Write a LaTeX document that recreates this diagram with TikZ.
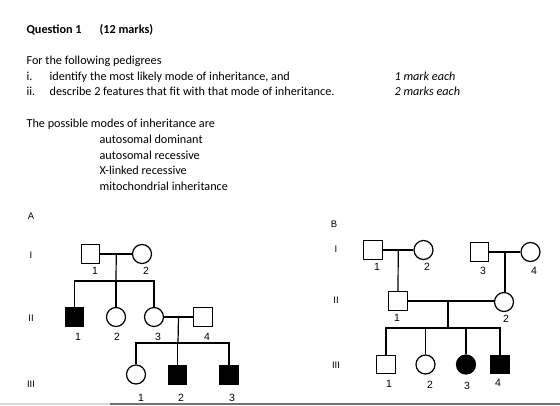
\documentclass[tikz,border=0pt]{standalone}
\usepackage{fontspec}
\setmainfont{Carlito}
\newfontfamily\pedfont{Liberation Sans}
\usetikzlibrary{calc}

\newcommand\bodysize{\fontsize{12.2}{14}\selectfont}
\tikzset{
  male/.style={draw, rectangle, minimum size=18.5pt, inner sep=0pt},
  female/.style={draw, circle, minimum size=19pt, inner sep=0pt},
  affected/.style={fill=black},
  num/.style={anchor=base, inner sep=0pt, font=\pedfont\fontsize{10.5}{12}\selectfont},
  gen/.style={anchor=base, inner sep=0pt, font=\pedfont\fontsize{9.5}{11}\selectfont},
  txt/.style={anchor=base west, inner sep=0pt, font=\bodysize},
}

\begin{document}
\begin{tikzpicture}[x=1pt, y=-1pt, line width=1.2pt]
    \useasboundingbox (0,0) rectangle (560,405);

    % question text
    \node[txt, font=\bfseries\bodysize] (q) at (26,33.3) {Question 1};
    \node[txt, font=\bfseries\bodysize] (marks) at (99,33.3) {(12 marks)};
    \node[txt] (intro) at (26,64.3) {For the following pedigrees};
    \node[txt] (i) at (26,80) {i.};
    \node[txt] (itext) at (49,80) {identify the most likely mode of inheritance, and};
    \node[txt] (ii) at (26,95.3) {ii.};
    \node[txt] (iitext) at (49,95.3) {describe 2 features that fit with that mode of inheritance.};
    \node[txt, font=\itshape\bodysize] (m1) at (394,80) {1 mark each};
    \node[txt, font=\itshape\bodysize] (m2) at (394,95.3) {2 marks each};
    \node[txt] (modes) at (26,127.7) {The possible modes of inheritance are};
    \node[txt] (ad) at (99,143.3) {autosomal dominant};
    \node[txt] (ar) at (99,159) {autosomal recessive};
    \node[txt] (xr) at (99,174.7) {X-linked recessive};
    \node[txt] (mi) at (99,190.7) {mitochondrial inheritance};

    % pedigree A
    \node[gen] (Alet) at (31,219) {A};
    \node[gen] (AgI) at (31,258) {I};
    \node[gen] (AgII) at (31,321) {II};
    \node[gen] (AgIII) at (31,387) {III};

    \node[male] (AI1) at (90.5,254) {};
    \node[female] (AI2) at (142,254) {};
    \node[male, affected] (AII1) at (74.5,317) {};
    \node[female] (AII2) at (116,317) {};
    \node[female] (AII3) at (154,317) {};
    \node[male] (AII4) at (203,317) {};
    \node[female] (AIII1) at (136,374.5) {};
    \node[male, affected] (AIII2) at (177.5,375) {};
    \node[male, affected] (AIII3) at (229,375) {};

    \draw (AI1) -- (AI2);
    \coordinate (Am1) at ($(AI1)!0.5!(AI2)$);
    \coordinate (As1) at (116,281);
    \draw (Am1) -- (As1);
    \draw (AII1.north) |- (As1) -| (AII3.north);
    \draw (AII2.north) -- (AII2 |- As1);

    \draw (AII3) -- (AII4);
    \coordinate (Am2) at ($(AII3)!0.5!(AII4)$);
    \coordinate (As2) at (178,343);
    \draw (Am2) -- (As2);
    \draw (AIII1.north) |- (As2) -| (AIII3.north);
    \draw (AIII2.north) -- (AIII2 |- As2);

    \node[num] (nAI1) at (95,274.5) {1};
    \node[num] (nAI2) at (146,274.5) {2};
    \node[num] (nAII1) at (78,340) {1};
    \node[num] (nAII2) at (117,340) {2};
    \node[num] (nAII3) at (158,340) {3};
    \node[num] (nAII4) at (207,340) {4};
    \node[num] (nAIII1) at (141,401.5) {1};
    \node[num] (nAIII2) at (181,401.5) {2};
    \node[num] (nAIII3) at (232,401.5) {3};

    % pedigree B
    \node[gen] (Blet) at (334,227) {B};
    \node[gen] (BgI) at (336,252) {I};
    \node[gen] (BgII) at (336,303) {II};
    \node[gen] (BgIII) at (336,368) {III};

    \node[male] (BI1) at (373,250) {};
    \node[female] (BI2) at (423.5,250) {};
    \node[male] (BI3) at (479.5,252) {};
    \node[female] (BI4) at (530.5,252) {};
    \node[male] (BII1) at (398,301) {};
    \node[female] (BII2) at (504,302) {};
    \node[male] (BIII1) at (386,364.5) {};
    \node[female] (BIII2) at (425.5,364.5) {};
    \node[female, affected] (BIII3) at (466,364.5) {};
    \node[male, affected] (BIII4) at (500,364.5) {};

    \draw (BI1) -- (BI2);
    \coordinate (Bm1) at ($(BI1)!0.5!(BI2)$);
    \draw (Bm1) -- (BII1.north);
    \draw (BI3) -- (BI4);
    \coordinate (Bm2) at ($(BI3)!0.5!(BI4)$);
    \draw (Bm2) -- (Bm2 |- BII2.north);

    \draw (BII1.east) -- (BII2.west |- BII1.east);
    \coordinate (Bm3) at (448,301);
    \coordinate (Bs3) at (448,328);
    \draw (Bm3) -- (Bs3);
    \draw (BIII1.north) |- (Bs3) -| (BIII4.north);
    \draw (BIII2.north) -- (BIII2 |- Bs3);
    \draw (BIII3.north) -- (BIII3 |- Bs3);

    \node[num] (nBI1) at (377,270) {1};
    \node[num] (nBI2) at (427,270) {2};
    \node[num] (nBI3) at (483,274) {3};
    \node[num] (nBI4) at (534,274) {4};
    \node[num] (nBII1) at (397,321) {1};
    \node[num] (nBII2) at (506,322) {2};
    \node[num] (nBIII1) at (389,387) {1};
    \node[num] (nBIII2) at (430,388) {2};
    \node[num] (nBIII3) at (467,389) {3};
    \node[num] (nBIII4) at (498,386.5) {4};

    % page edge
    \draw[line width=1.5pt, black!15] (0,404.2) -- (110,404.2);
    \draw[line width=1.5pt, black!55] (110,404.2) -- (560,404.2);
\end{tikzpicture}
\end{document}
